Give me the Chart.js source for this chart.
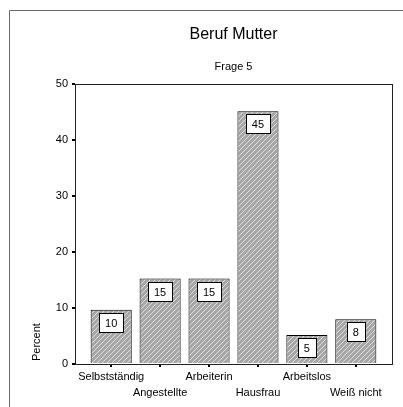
<!DOCTYPE html>
<html>
<head>
<meta charset="utf-8">
<script src="https://cdn.jsdelivr.net/npm/chart.js@4.4.0/dist/chart.umd.min.js"></script>
<style>
  html, body { margin: 0; padding: 0; background: #fff; }
  #wrap { width: 403px; height: 407px; }
</style>
</head>
<body>
<div id="wrap"><canvas id="chart" width="403" height="407"></canvas></div>
<script>
// Beruf Mutter - Frage 5
const categories = ['Selbstständig', 'Angestellte', 'Arbeiterin', 'Hausfrau', 'Arbeitslos', 'Weiß nicht'];
const percents = [9.7, 15.3, 15.3, 45.2, 5.2, 8.0];
const yTicks = [0, 10, 20, 30, 40, 50];
const axisTitle = 'Percent';

const FONT = 'Arial, "Liberation Sans", sans-serif';

function hatchPattern() {
  const c = document.createElement('canvas');
  c.width = 5; c.height = 5;
  const g = c.getContext('2d');
  g.fillStyle = '#a6a6a6';
  g.fillRect(0, 0, 5, 5);
  g.strokeStyle = '#e0e0e0';
  g.lineWidth = 1;
  g.beginPath();
  g.moveTo(-1, 6); g.lineTo(6, -1);
  g.moveTo(-3, 3); g.lineTo(3, -3);
  g.moveTo(2, 8); g.lineTo(8, 2);
  g.stroke();
  return g.createPattern(c, 'repeat');
}

// outer frame, plot box and rotated axis title
const framePlugin = {
  id: 'frame',
  beforeDraw(chart) {
    const ctx = chart.ctx;
    ctx.save();
    ctx.strokeStyle = '#6a6a6a';
    ctx.lineWidth = 1;
    ctx.beginPath();
    ctx.moveTo(9.5, chart.height);
    ctx.lineTo(9.5, 10.5);
    ctx.lineTo(chart.width, 10.5);
    ctx.stroke();
    ctx.restore();
  },
  beforeDatasetsDraw(chart) {
    const a = chart.chartArea;
    const ctx = chart.ctx;
    ctx.save();
    ctx.strokeStyle = '#222';
    ctx.lineWidth = 1;
    ctx.strokeRect(Math.round(a.left) + 0.5, Math.round(a.top) + 0.5,
      Math.round(a.right - a.left), Math.round(a.bottom - a.top));
    ctx.translate(37, a.bottom - 22);
    ctx.rotate(-Math.PI / 2);
    ctx.fillStyle = '#000';
    ctx.font = '11px ' + FONT;
    ctx.textAlign = 'center';
    ctx.textBaseline = 'middle';
    ctx.fillText(axisTitle, 0, 0);
    ctx.restore();
  }
};

// white value boxes near the top of each bar
const valueBoxes = {
  id: 'valueBoxes',
  afterDatasetsDraw(chart) {
    const ctx = chart.ctx;
    const meta = chart.getDatasetMeta(0);
    ctx.save();
    ctx.font = '11px ' + FONT;
    ctx.textAlign = 'center';
    ctx.textBaseline = 'middle';
    meta.data.forEach((bar, i) => {
      const txt = String(Math.round(percents[i]));
      const w = Math.round(ctx.measureText(txt).width + 12);
      const h = 19;
      const x = Math.round(bar.x - w / 2) + 0.5;
      const y = Math.round(bar.y + 3) + 0.5;
      ctx.fillStyle = '#fff';
      ctx.fillRect(x, y, w, h);
      ctx.strokeStyle = '#000';
      ctx.lineWidth = 1;
      ctx.strokeRect(x, y, w, h);
      ctx.fillStyle = '#000';
      ctx.fillText(txt, bar.x, y + h / 2 + 0.5);
    });
    ctx.restore();
  }
};

new Chart(document.getElementById('chart'), {
  type: 'bar',
  data: {
    datasets: [{
      data: categories.map((c, i) => ({ x: i, y: percents[i] })),
      backgroundColor: hatchPattern(),
      borderColor: '#000',
      borderWidth: 1,
      borderSkipped: 'bottom',
      barPercentage: 0.84,
      categoryPercentage: 1
    }]
  },
  options: {
    responsive: false,
    animation: false,
    layout: { padding: { left: 0, right: 11, top: 15, bottom: 4 } },
    plugins: {
      legend: { display: false },
      tooltip: { enabled: false },
      title: {
        display: true,
        fullSize: false,
        text: 'Beruf Mutter',
        color: '#000',
        font: { family: FONT, size: 16, weight: 'normal' },
        padding: { top: 10, bottom: 6 }
      },
      subtitle: {
        display: true,
        fullSize: false,
        text: 'Frage 5',
        color: '#000',
        font: { family: FONT, size: 11, weight: 'normal' },
        padding: { top: 10, bottom: 11 }
      }
    },
    scales: {
      x: {
        type: 'linear',
        offset: false,
        min: -0.74,
        max: 5.74,
        afterBuildTicks(scale) {
          scale.ticks = categories.map((c, i) => ({ value: i }));
        },
        ticks: {
          autoSkip: false,
          maxRotation: 0,
          color: '#000',
          padding: 2,
          font: { family: FONT, size: 11, lineHeight: 1.45 },
          callback: (v) => (v % 2 ? ['', categories[v]] : categories[v])
        },
        grid: { offset: false, drawOnChartArea: false, color: '#000', lineWidth: 2, tickLength: 3 },
        border: { display: false }
      },
      y: {
        min: 0,
        max: 50,
        afterBuildTicks(scale) {
          scale.ticks = yTicks.map(v => ({ value: v }));
        },
        afterFit(scale) { scale.width = 75; },
        ticks: {
          color: '#000',
          padding: 4,
          font: { family: FONT, size: 11 }
        },
        grid: { drawOnChartArea: false, color: '#000', lineWidth: 2, tickLength: 3 },
        border: { display: false }
      }
    }
  },
  plugins: [framePlugin, valueBoxes]
});
</script>
</body>
</html>
